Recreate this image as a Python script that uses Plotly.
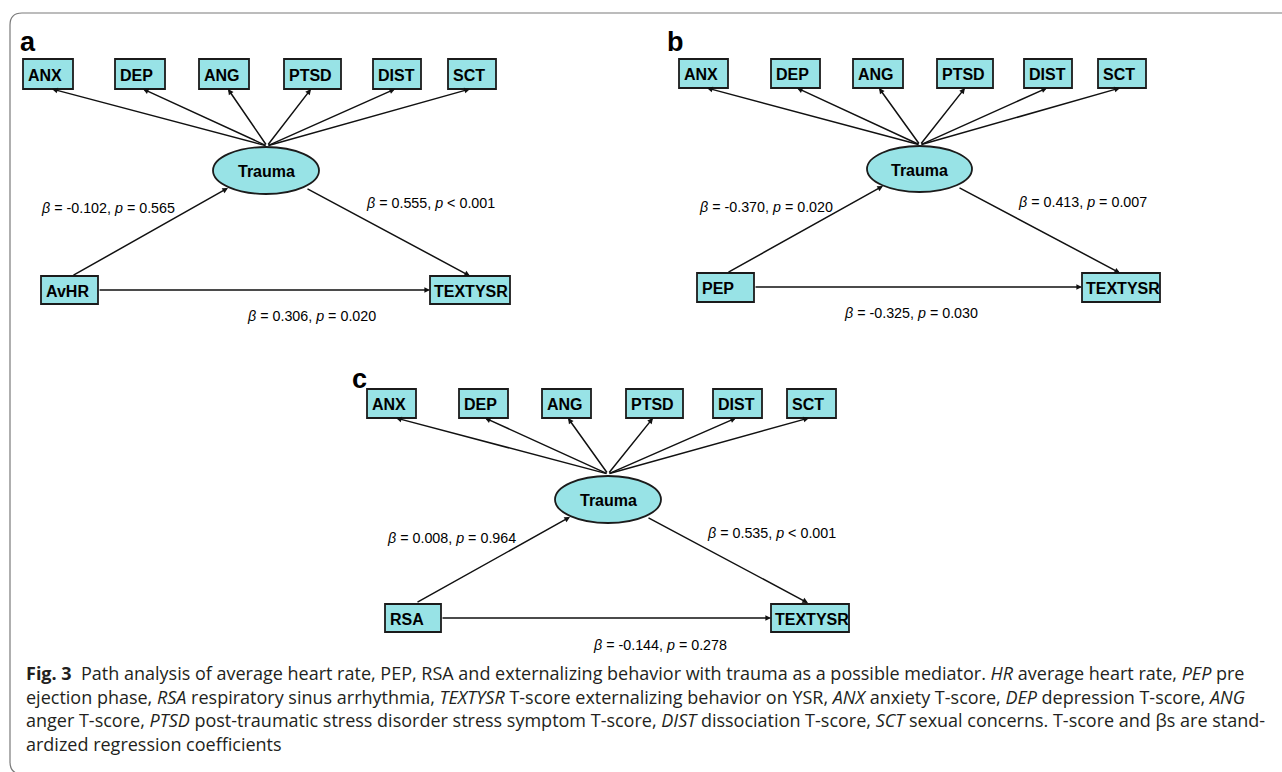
import plotly.graph_objects as go

# ---------------- data ----------------
panels = ["a", "b", "c"]
indicators = ["ANX", "DEP", "ANG", "PTSD", "DIST", "SCT"]
mediator = "Trauma"
outcome = "TEXTYSR"
predictors = ["AvHR", "PEP", "RSA"]
beta_pred_med = [-0.102, -0.370, 0.008]
p_pred_med = [0.565, 0.020, 0.964]
p_pred_med_op = ["=", "=", "="]
beta_med_out = [0.555, 0.413, 0.535]
p_med_out = [0.001, 0.007, 0.001]
p_med_out_op = ["<", "=", "<"]
beta_direct = [0.306, -0.325, -0.144]
p_direct = [0.020, 0.030, 0.278]
p_direct_op = ["=", "=", "="]

caption_lines = [
    "<b>Fig. 3</b>  Path analysis of average heart rate, PEP, RSA and externalizing behavior with trauma as a possible mediator. <i>HR</i> average heart rate, <i>PEP</i> pre",
    "ejection phase, <i>RSA</i> respiratory sinus arrhythmia, <i>TEXTYSR</i> T-score externalizing behavior on YSR, <i>ANX</i> anxiety T-score, <i>DEP</i> depression T-score, <i>ANG</i>",
    "anger T-score, <i>PTSD</i> post-traumatic stress disorder stress symptom T-score, <i>DIST</i> dissociation T-score, <i>SCT</i> sexual concerns. T-score and βs are stand-",
    "ardized regression coefficients",
]

# ---------------- layout geometry (pixel-like canvas units) ----------------
geom = [
    dict(letter=(28, 42),
         box_x=[(23, 73), (115, 165), (199, 249), (284, 341), (373, 421), (448, 496)],
         box_y=(59, 89), tips=[52, 143, 228, 311, 395, 470], origin=(267, 146),
         ell=(213, 319, 147, 194), pred=(41, 98, 276, 304), out=(430, 510, 276, 304),
         a1=((72, 276), (228, 188)), a2=((306, 188), (470, 276)), hy=290,
         lab1=(39, 208), lab2=(364, 203), lab3=(311, 316)),
    dict(letter=(675, 42),
         box_x=[(679, 728), (771, 820), (853, 903), (937, 993), (1024, 1072), (1098, 1146)],
         box_y=(59, 88), tips=[707, 797, 879, 965, 1047, 1120], origin=(920, 145),
         ell=(867, 972, 146, 192), pred=(697, 754, 273, 302), out=(1082, 1160, 273, 302),
         a1=((727, 273), (883, 186)), a2=((958, 187), (1120, 273)), hy=287,
         lab1=(697, 207), lab2=(1016, 202), lab3=(911, 313)),
    dict(letter=(359, 379),
         box_x=[(367, 416), (459, 508), (542, 591), (626, 683), (713, 762), (787, 836)],
         box_y=(389, 418), tips=[396, 485, 568, 653, 736, 809], origin=(608, 474),
         ell=(555, 661, 476, 523), pred=(385, 441, 604, 632), out=(771, 849, 604, 632),
         a1=((416, 603), (570, 517)), a2=((647, 517), (808, 603)), hy=618,
         lab1=(385, 538), lab2=(705, 533), lab3=(660, 645)),
]

W, H = 1282, 772
FILL = "#98E3E6"
EDGE = "#1b1b1b"
ARROW = "#111111"
BOXFONT = "Liberation Sans, Arial, sans-serif"
ARIAL = "Liberation Sans, Arial, sans-serif"
CAPFONT = "Open Sans, Noto Sans, sans-serif"

fig = go.Figure()
fig.add_trace(go.Scatter(x=[0, W], y=[0, H], mode="markers",
                         marker=dict(opacity=0), hoverinfo="skip", showlegend=False))

shapes = []
annotations = []

# frame
shapes.append(dict(type="path", xref="x", yref="y",
                   path="M 1300,13 L 22,13 Q 10,13 10,25 L 10,762 Q 10,774 22,774 L 1300,774",
                   line=dict(color="#7a7a7a", width=1.2), fillcolor="rgba(0,0,0,0)"))


def label(x, y, text, size, family, xanchor="left", color="#000"):
    annotations.append(dict(x=x, y=y, xref="x", yref="y", text=text, showarrow=False,
                            xanchor=xanchor, yanchor="middle",
                            font=dict(size=size, family=family, color=color)))


def arrow(tail, head):
    annotations.append(dict(x=head[0], y=head[1], ax=tail[0], ay=tail[1],
                            xref="x", yref="y", axref="x", ayref="y", text="",
                            showarrow=True, arrowhead=2, arrowsize=0.75, arrowwidth=1.5,
                            arrowcolor=ARROW, standoff=0, startstandoff=0))


def rect(x0, x1, y0, y1):
    shapes.append(dict(type="rect", xref="x", yref="y", x0=x0, x1=x1, y0=y0, y1=y1,
                       fillcolor=FILL, line=dict(color=EDGE, width=1.8), layer="above"))


def fmt(v):
    return f"{v:.3f}"


for i, g in enumerate(geom):
    # panel letter
    label(g["letter"][0], g["letter"][1], f"<b>{panels[i]}</b>", 27, ARIAL, xanchor="center")
    # arrows from mediator to indicators
    for tip in g["tips"]:
        arrow(g["origin"], (tip, g["box_y"][1]))
    # structural arrows
    arrow(*g["a1"])
    arrow(*g["a2"])
    arrow((g["pred"][1], g["hy"]), (g["out"][0], g["hy"]))
    # indicator boxes
    for (x0, x1), name in zip(g["box_x"], indicators):
        rect(x0, x1, *g["box_y"])
        label(x0 + 3, (g["box_y"][0] + g["box_y"][1]) / 2 + 1, f"<b>{name}</b>", 16, BOXFONT)
    # mediator ellipse
    ex0, ex1, ey0, ey1 = g["ell"]
    shapes.append(dict(type="circle", xref="x", yref="y", x0=ex0, x1=ex1, y0=ey0, y1=ey1,
                       fillcolor=FILL, line=dict(color=EDGE, width=1.8), layer="above"))
    label((ex0 + ex1) / 2, (ey0 + ey1) / 2 + 1, f"<b>{mediator}</b>", 16, BOXFONT, xanchor="center")
    # predictor and outcome
    px0, px1, py0, py1 = g["pred"]
    rect(px0, px1, py0, py1)
    label(px0 + 3, (py0 + py1) / 2 + 1, f"<b>{predictors[i]}</b>", 16, BOXFONT)
    ox0, ox1, oy0, oy1 = g["out"]
    rect(ox0, ox1, oy0, oy1)
    label(ox0 + 2, (oy0 + oy1) / 2 + 1, f"<b>{outcome}</b>", 16, BOXFONT)
    # coefficient labels
    label(g["lab1"][0], g["lab1"][1],
          f"<i>β</i> = {fmt(beta_pred_med[i])}, <i>p</i> {p_pred_med_op[i]} {fmt(p_pred_med[i])}",
          14.3, ARIAL)
    label(g["lab2"][0], g["lab2"][1],
          f"<i>β</i> = {fmt(beta_med_out[i])}, <i>p</i> {p_med_out_op[i]} {fmt(p_med_out[i])}",
          14.3, ARIAL)
    label(g["lab3"][0], g["lab3"][1],
          f"<i>β</i> = {fmt(beta_direct[i])}, <i>p</i> {p_direct_op[i]} {fmt(p_direct[i])}",
          14.3, ARIAL, xanchor="center")

# caption
cap_y = [673, 696.5, 720, 743.5]
for yy, line in zip(cap_y, caption_lines):
    label(24, yy, line, 18, CAPFONT, color="#231f20")

fig.update_layout(
    width=W, height=H, margin=dict(l=0, r=0, t=0, b=0),
    paper_bgcolor="white", plot_bgcolor="white",
    xaxis=dict(range=[0, W], visible=False, fixedrange=True),
    yaxis=dict(range=[H, 0], visible=False, fixedrange=True),
    shapes=shapes, annotations=annotations, showlegend=False,
)

fig.write_html("out.html", config={"displayModeBar": False},
               post_script="document.body.style.margin='0px';document.body.style.overflow='hidden';")
